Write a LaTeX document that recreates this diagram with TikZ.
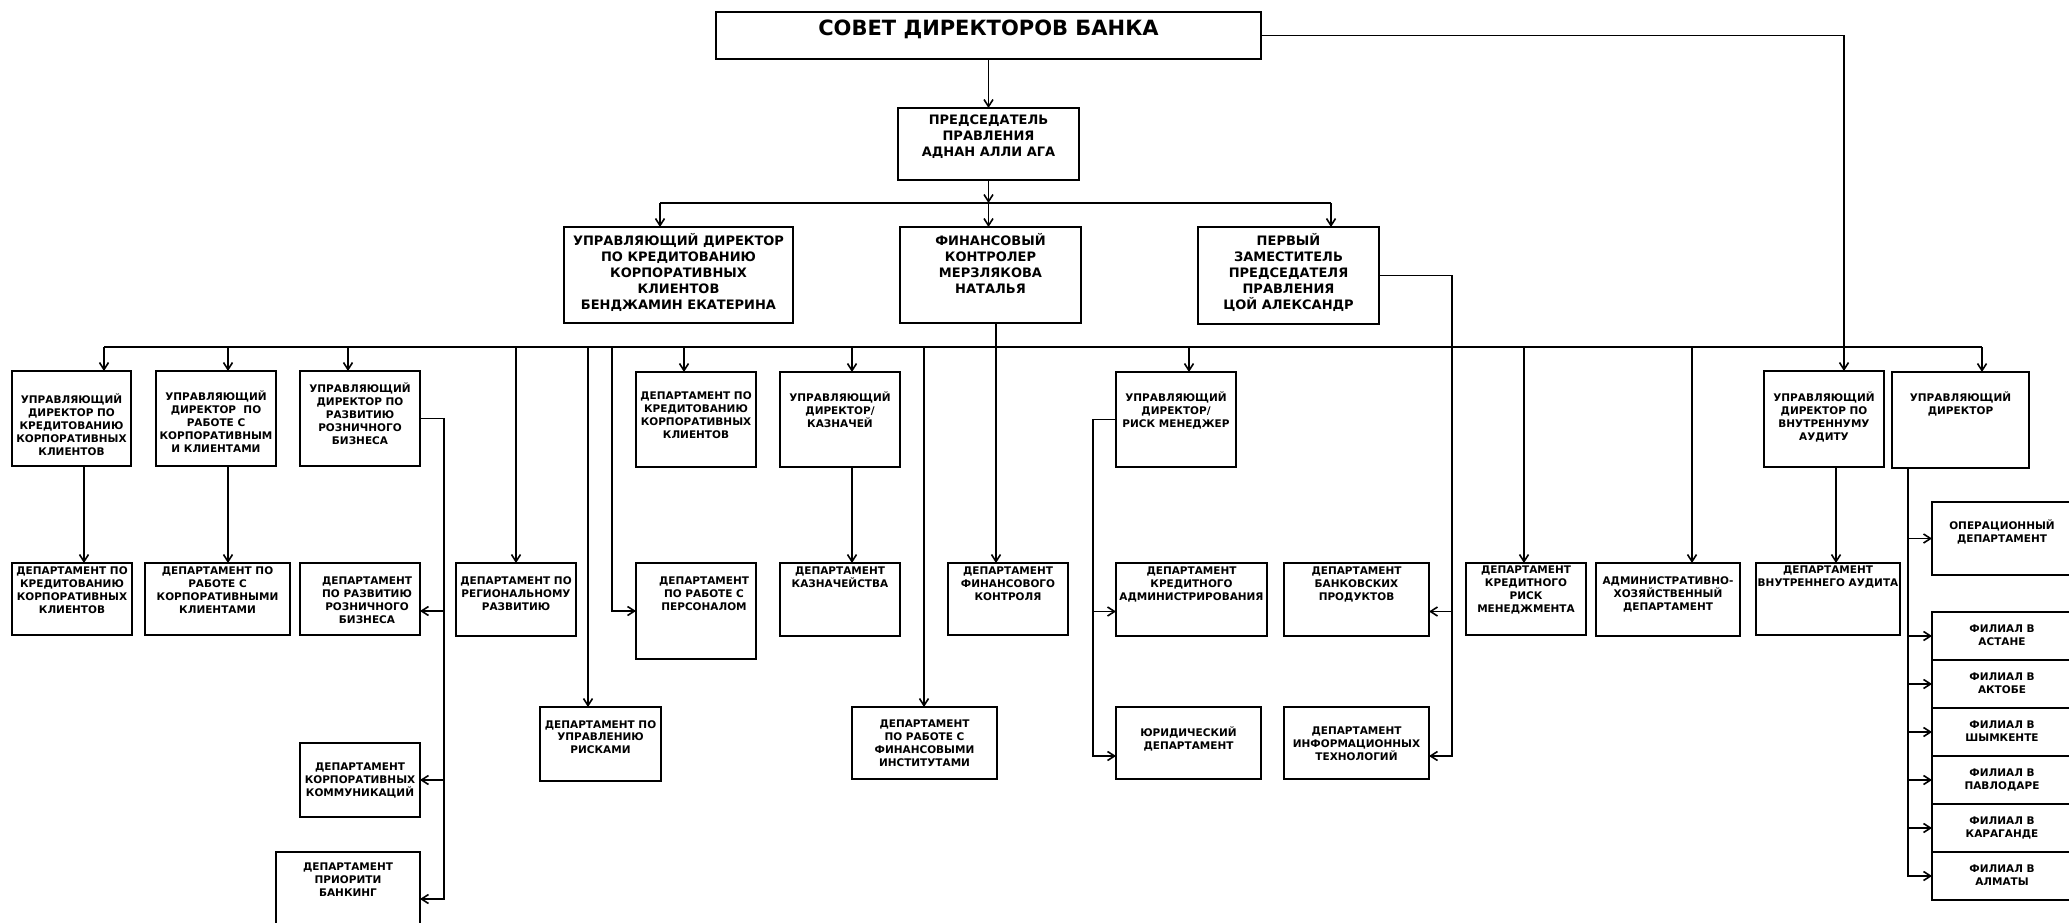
\documentclass[tikz,border=0pt]{standalone}
\usepackage{fontspec}
\setmainfont{DejaVu Sans}
\usetikzlibrary{arrows.meta,positioning}

\begin{document}
\begin{tikzpicture}[x=1pt,y=-1pt,
        box/.style={draw, line width=1.8pt, anchor=north west, inner sep=0pt, outer sep=0pt},
        txt/.style={anchor=north, align=center, inner sep=0pt, font=\bfseries\fontsize{10.5}{12.8}\selectfont},
        bigtxt/.style={txt, font=\bfseries\fontsize{13}{16}\selectfont},
        link/.style={line width=1.6pt},
        arr/.style={line width=1.6pt, -{Straight Barb[length=7pt,width=9pt]}}]
    \useasboundingbox (0,0) rectangle (2069,923);
    \clip (0,0) rectangle (2069,923);

    % board and chairman
    \node[box, minimum width=545pt, minimum height=47pt, label={[txt, yshift=-8pt, font=\bfseries\fontsize{21}{25}\selectfont]north:{СОВЕТ ДИРЕКТОРОВ БАНКА}}] (sovet) at (716,12) {};
    \node[box, minimum width=181pt, minimum height=72pt, label={[bigtxt, yshift=-7pt]north:{ПРЕДСЕДАТЕЛЬ\\ПРАВЛЕНИЯ\\АДНАН АЛЛИ АГА}}] (pred) at (898,108) {};

    \node[box, minimum width=229pt, minimum height=96pt, label={[bigtxt, yshift=-6pt]north:{УПРАВЛЯЮЩИЙ ДИРЕКТОР\\ПО КРЕДИТОВАНИЮ\\КОРПОРАТИВНЫХ\\КЛИЕНТОВ\\БЕНДЖАМИН ЕКАТЕРИНА}}] (udk) at (564,227) {};
    \node[box, minimum width=181pt, minimum height=96pt, label={[bigtxt, yshift=-6pt]north:{ФИНАНСОВЫЙ\\КОНТРОЛЕР\\МЕРЗЛЯКОВА\\НАТАЛЬЯ}}] (fin) at (900,227) {};
    \node[box, minimum width=181pt, minimum height=97pt, label={[bigtxt, yshift=-6pt]north:{ПЕРВЫЙ\\ЗАМЕСТИТЕЛЬ\\ПРЕДСЕДАТЕЛЯ\\ПРАВЛЕНИЯ\\ЦОЙ АЛЕКСАНДР}}] (perv) at (1198,227) {};

    % managing directors
    \node[box, minimum width=119pt, minimum height=95pt, label={[txt, yshift=-23pt]north:{УПРАВЛЯЮЩИЙ\\ДИРЕКТОР ПО\\КРЕДИТОВАНИЮ\\КОРПОРАТИВНЫХ\\КЛИЕНТОВ}}] (mdcredit) at (12,371) {};
    \node[box, minimum width=120pt, minimum height=95pt, label={[txt, yshift=-20pt]north:{УПРАВЛЯЮЩИЙ\\ДИРЕКТОР~~ПО\\РАБОТЕ С\\КОРПОРАТИВНЫМ\\И КЛИЕНТАМИ}}] (mdcorp) at (156,371) {};
    \node[box, minimum width=120pt, minimum height=95pt, label={[txt, yshift=-12pt]north:{УПРАВЛЯЮЩИЙ\\ДИРЕКТОР ПО\\РАЗВИТИЮ\\РОЗНИЧНОГО\\БИЗНЕСА}}] (mdretail) at (300,371) {};
    \node[box, minimum width=120pt, minimum height=95pt, label={[txt, yshift=-20pt]north:{ДЕПАРТАМЕНТ ПО\\КРЕДИТОВАНИЮ\\КОРПОРАТИВНЫХ\\КЛИЕНТОВ}}] (depcredit) at (636,372) {};
    \node[box, minimum width=120pt, minimum height=95pt, label={[txt, yshift=-20pt]north:{УПРАВЛЯЮЩИЙ\\ДИРЕКТОР/\\КАЗНАЧЕЙ}}] (mdtreasury) at (780,372) {};
    \node[box, minimum width=120pt, minimum height=95pt, label={[txt, yshift=-20pt]north:{УПРАВЛЯЮЩИЙ\\ДИРЕКТОР/\\РИСК МЕНЕДЖЕР}}] (mdriskmgr) at (1116,372) {};
    \node[box, minimum width=120pt, minimum height=96pt, label={[txt, yshift=-21pt]north:{УПРАВЛЯЮЩИЙ\\ДИРЕКТОР ПО\\ВНУТРЕННУМУ\\АУДИТУ}}] (mdaudit) at (1764,371) {};
    \node[box, minimum width=137pt, minimum height=96pt, label={[txt, yshift=-20pt]north:{УПРАВЛЯЮЩИЙ\\ДИРЕКТОР}}] (mdbranch) at (1892,372) {};

    % departments
    \node[box, minimum width=120pt, minimum height=72pt, label={[txt, yshift=-4pt]north:{ДЕПАРТАМЕНТ ПО\\КРЕДИТОВАНИЮ\\КОРПОРАТИВНЫХ\\КЛИЕНТОВ}}] (depcreditlow) at (12,563) {};
    \node[box, minimum width=145pt, minimum height=72pt, label={[txt, yshift=-4pt]north:{ДЕПАРТАМЕНТ ПО\\РАБОТЕ С\\КОРПОРАТИВНЫМИ\\КЛИЕНТАМИ}}] (depcorplow) at (145,563) {};
    \node[box, minimum width=120pt, minimum height=72pt, label={[txt, yshift=-14pt, xshift=7pt]north:{ДЕПАРТАМЕНТ\\ПО РАЗВИТИЮ\\РОЗНИЧНОГО\\БИЗНЕСА}}] (depretail) at (300,563) {};
    \node[box, minimum width=120pt, minimum height=73pt, label={[txt, yshift=-14pt]north:{ДЕПАРТАМЕНТ ПО\\РЕГИОНАЛЬНОМУ\\РАЗВИТИЮ}}] (depregional) at (456,563) {};
    \node[box, minimum width=120pt, minimum height=96pt, label={[txt, yshift=-14pt, xshift=8pt]north:{ДЕПАРТАМЕНТ\\ПО РАБОТЕ С\\ПЕРСОНАЛОМ}}] (deppersonnel) at (636,563) {};
    \node[box, minimum width=120pt, minimum height=73pt, label={[txt, yshift=-4pt]north:{ДЕПАРТАМЕНТ\\КАЗНАЧЕЙСТВА}}] (deptreasury) at (780,563) {};
    \node[box, minimum width=120pt, minimum height=72pt, label={[txt, yshift=-4pt]north:{ДЕПАРТАМЕНТ\\ФИНАНСОВОГО\\КОНТРОЛЯ}}] (depfincontrol) at (948,563) {};
    \node[box, minimum width=151pt, minimum height=73pt, label={[txt, yshift=-4pt]north:{ДЕПАРТАМЕНТ\\КРЕДИТНОГО\\АДМИНИСТРИРОВАНИЯ}}] (depcreditadmin) at (1116,563) {};
    \node[box, minimum width=145pt, minimum height=73pt, label={[txt, yshift=-4pt]north:{ДЕПАРТАМЕНТ\\БАНКОВСКИХ\\ПРОДУКТОВ}}] (depbankprod) at (1284,563) {};
    \node[box, minimum width=120pt, minimum height=72pt, label={[txt, yshift=-3pt]north:{ДЕПАРТАМЕНТ\\КРЕДИТНОГО\\РИСК\\МЕНЕДЖМЕНТА}}] (depcreditrisk) at (1466,563) {};
    \node[box, minimum width=144pt, minimum height=73pt, label={[txt, yshift=-14pt]north:{АДМИНИСТРАТИВНО-\\ХОЗЯЙСТВЕННЫЙ\\ДЕПАРТАМЕНТ}}] (depadmin) at (1596,563) {};
    \node[box, minimum width=144pt, minimum height=72pt, label={[txt, yshift=-3pt]north:{ДЕПАРТАМЕНТ\\ВНУТРЕННЕГО АУДИТА}}] (depaudit) at (1756,563) {};

    \node[box, minimum width=121pt, minimum height=74pt, label={[txt, yshift=-13pt]north:{ДЕПАРТАМЕНТ ПО\\УПРАВЛЕНИЮ\\РИСКАМИ}}] (deprisk) at (540,707) {};
    \node[box, minimum width=145pt, minimum height=72pt, label={[txt, yshift=-13pt]north:{ДЕПАРТАМЕНТ\\ПО РАБОТЕ С\\ФИНАНСОВЫМИ\\ИНСТИТУТАМИ}}] (depfininst) at (852,707) {};
    \node[box, minimum width=145pt, minimum height=72pt, label={[txt, yshift=-20pt]north:{ЮРИДИЧЕСКИЙ\\ДЕПАРТАМЕНТ}}] (legal) at (1116,707) {};
    \node[box, minimum width=145pt, minimum height=72pt, label={[txt, yshift=-20pt]north:{ДЕПАРТАМЕНТ\\ИНФОРМАЦИОННЫХ\\ТЕХНОЛОГИЙ}}] (depit) at (1284,707) {};
    \node[box, minimum width=120pt, minimum height=74pt, label={[txt, yshift=-20pt]north:{ДЕПАРТАМЕНТ\\КОРПОРАТИВНЫХ\\КОММУНИКАЦИЙ}}] (depcomm) at (300,743) {};
    \node[box, minimum width=144pt, minimum height=94pt, label={[txt, yshift=-11pt]north:{ДЕПАРТАМЕНТ\\ПРИОРИТИ\\БАНКИНГ}}] (deppriority) at (276,852) {};

    % branches
    \node[box, minimum width=140pt, minimum height=73pt, label={[txt, yshift=-18pt]north:{ОПЕРАЦИОННЫЙ\\ДЕПАРТАМЕНТ}}] (ops) at (1932,502) {};
    \node[box, minimum width=140pt, minimum height=48pt, label={[txt, yshift=-13pt]north:{ФИЛИАЛ В\\АСТАНЕ}}] (f1) at (1932,612) {};
    \node[box, minimum width=140pt, minimum height=48pt, below=0pt of f1, label={[txt, yshift=-13pt]north:{ФИЛИАЛ В\\АКТОБЕ}}] (f2) {};
    \node[box, minimum width=140pt, minimum height=48pt, below=0pt of f2, label={[txt, yshift=-13pt]north:{ФИЛИАЛ В\\ШЫМКЕНТЕ}}] (f3) {};
    \node[box, minimum width=140pt, minimum height=48pt, below=0pt of f3, label={[txt, yshift=-13pt]north:{ФИЛИАЛ В\\ПАВЛОДАРЕ}}] (f4) {};
    \node[box, minimum width=140pt, minimum height=48pt, below=0pt of f4, label={[txt, yshift=-13pt]north:{ФИЛИАЛ В\\КАРАГАНДЕ}}] (f5) {};
    \node[box, minimum width=140pt, minimum height=48pt, below=0pt of f5, label={[txt, yshift=-13pt]north:{ФИЛИАЛ В\\АЛМАТЫ}}] (f6) {};

    % top connectors
    \draw[arr] (sovet) -- (pred);
    \coordinate (bus1) at (988.5,203);
    \coordinate (bus1l) at (660,203);
    \coordinate (bus1r) at (1331,203);
    \draw[arr] (pred) -- (bus1);
    \draw[link] (bus1l) -- (bus1r);
    \draw[arr] (bus1l) -- (bus1l |- udk.north);
    \draw[arr] (bus1) -- (bus1 |- fin.north);
    \draw[arr] (bus1r) -- (bus1r |- perv.north);
    \draw[arr] (sovet.east) -| ([xshift=20pt]mdaudit.north);

    % main bus
    \coordinate (bus2l) at (104,347);
    \coordinate (bus2r) at (1982,347);
    \coordinate (d2) at (228,347);
    \coordinate (d3) at (348,347);
    \coordinate (d4) at (516,347);
    \coordinate (d5) at (588,347);
    \coordinate (d6) at (612,347);
    \coordinate (d7) at (684,347);
    \coordinate (d8) at (852,347);
    \coordinate (d9) at (924,347);
    \coordinate (d10) at (1189,347);
    \coordinate (d11) at (1524,347);
    \coordinate (d12) at (1692,347);
    \draw[link] (bus2l) -- (bus2r);
    \draw[arr] (bus2l) -- (bus2l |- mdcredit.north);
    \draw[arr] (d2) -- (d2 |- mdcorp.north);
    \draw[arr] (d3) -- (d3 |- mdretail.north);
    \draw[arr] (d4) -- (d4 |- depregional.north);
    \draw[arr] (d5) -- (d5 |- deprisk.north);
    \draw[arr] (d6) |- (deppersonnel.west);
    \draw[arr] (d7) -- (d7 |- depcredit.north);
    \draw[arr] (d8) -- (d8 |- mdtreasury.north);
    \draw[arr] (d9) -- (d9 |- depfininst.north);
    \draw[arr] (d10) -- (d10 |- mdriskmgr.north);
    \draw[arr] (d11) -- (d11 |- depcreditrisk.north);
    \draw[arr] (d12) -- (d12 |- depadmin.north);
    \draw[arr] (bus2r) -- (bus2r |- mdbranch.north);

    % directors to departments
    \draw[arr] ([xshift=12.5pt]mdcredit.south) -- ([xshift=12pt]depcreditlow.north);
    \draw[arr] ([xshift=12pt]mdcorp.south) -- ([xshift=10.5pt]depcorplow.north);
    \draw[arr] ([xshift=12pt]mdtreasury.south) -- ([xshift=12pt]deptreasury.north);
    \draw[arr] ([xshift=12pt]mdaudit.south) -- ([xshift=8pt]depaudit.north);
    \draw[arr] ([xshift=5.5pt]fin.south) -- ([xshift=-12pt]depfincontrol.north);

    \draw[arr] (mdretail.east) -- ++(24,0) |- ([yshift=-12pt]depretail.east);
    \draw[arr] (mdretail.east) -- ++(24,0) |- (depcomm.east);
    \draw[arr] (mdretail.east) -- ++(24,0) |- (deppriority.east);

    \draw[arr] (mdriskmgr.west) -- ++(-23,0) |- ([yshift=-12pt]depcreditadmin.west);
    \draw[arr] (mdriskmgr.west) -- ++(-23,0) |- ([yshift=-13pt]legal.west);

    \draw[arr] (perv.east) -- ++(73,0) |- ([yshift=-12pt]depbankprod.east);
    \draw[arr] (perv.east) -- ++(73,0) |- ([yshift=-13pt]depit.east);

    \draw[arr] ([xshift=16pt]mdbranch.south west) |- (ops.west);
    \draw[arr] ([xshift=16pt]mdbranch.south west) |- (f1.west);
    \draw[arr] ([xshift=16pt]mdbranch.south west) |- (f2.west);
    \draw[arr] ([xshift=16pt]mdbranch.south west) |- (f3.west);
    \draw[arr] ([xshift=16pt]mdbranch.south west) |- (f4.west);
    \draw[arr] ([xshift=16pt]mdbranch.south west) |- (f5.west);
    \draw[arr] ([xshift=16pt]mdbranch.south west) |- (f6.west);
\end{tikzpicture}
\end{document}
